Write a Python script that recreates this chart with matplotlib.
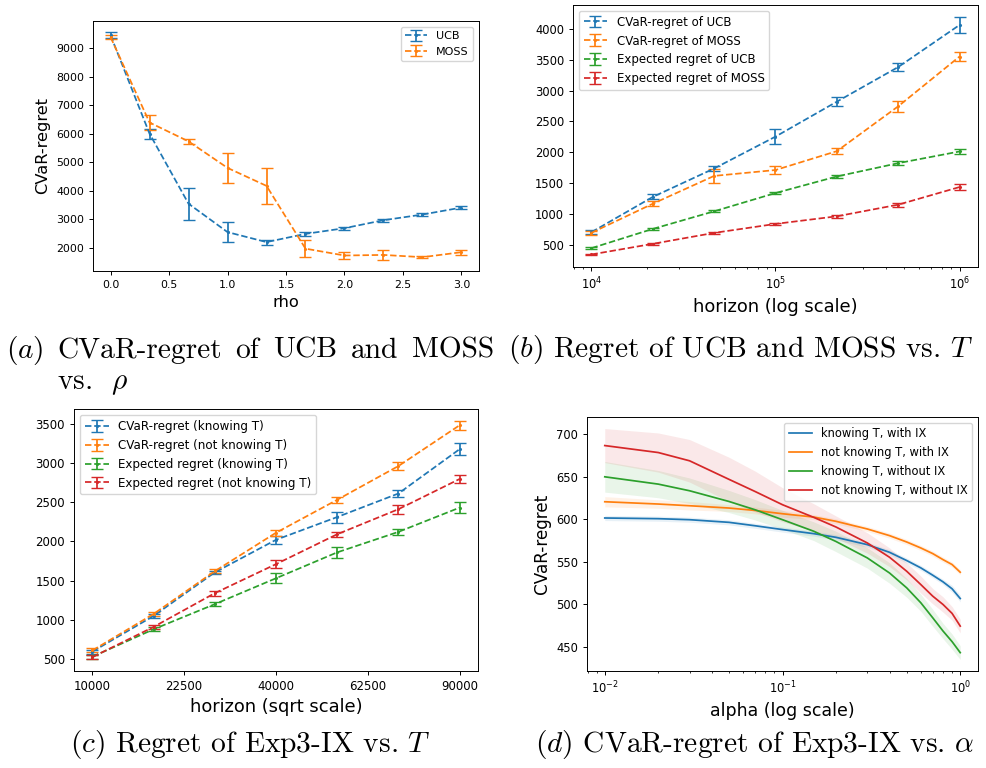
import numpy as np
import matplotlib
matplotlib.use("Agg")
import matplotlib.pyplot as plt

# ---- (a) CVaR-regret vs rho
rho = [0.0, 1/3, 2/3, 1.0, 4/3, 5/3, 2.0, 7/3, 8/3, 3.0]
ucb_rho = [9450, 6000, 3545, 2550, 2200, 2488, 2687, 2967, 3165, 3410]
ucb_rho_err = [100, 170, 555, 345, 90, 70, 50, 50, 50, 60]
moss_rho = [9385, 6390, 5730, 4800, 4170, 1970, 1730, 1750, 1671, 1846]
moss_rho_err = [60, 275, 90, 515, 620, 300, 140, 165, 40, 90]

# ---- (b) regret vs horizon (log)
horizon_b = [1e4, 2.154e4, 4.642e4, 1e5, 2.154e5, 4.642e5, 1e6]
cvar_ucb = [710, 1280, 1740, 2255, 2820, 3380, 4060]
cvar_ucb_err = [30, 40, 40, 125, 70, 65, 130]
cvar_moss = [700, 1170, 1620, 1715, 2020, 2745, 3550]
cvar_moss_err = [30, 40, 110, 70, 45, 90, 75]
exp_ucb = [452, 763, 1048, 1343, 1611, 1826, 2015]
exp_ucb_err = [15, 15, 15, 20, 25, 30, 40]
exp_moss = [350, 522, 699, 844, 967, 1155, 1440]
exp_moss_err = [10, 12, 15, 15, 20, 30, 45]

# ---- (c) Exp3-IX regret vs horizon (sqrt)
horizon_c = [10000, 17778, 27778, 40000, 54444, 71111, 90000]
cvar_know = [595, 1050, 1605, 2020, 2310, 2610, 3175]
cvar_know_err = [25, 25, 20, 50, 70, 40, 75]
cvar_notknow = [610, 1075, 1620, 2110, 2530, 2960, 3480]
cvar_notknow_err = [25, 25, 25, 40, 35, 55, 55]
exp_know = [530, 880, 1200, 1530, 1860, 2121, 2430]
exp_know_err = [25, 25, 25, 65, 70, 35, 70]
exp_notknow = [525, 910, 1340, 1710, 2091, 2410, 2795]
exp_notknow_err = [25, 25, 30, 55, 30, 55, 55]
horizon_c_ticks = [10000, 22500, 40000, 62500, 90000]

# ---- (d) CVaR-regret vs alpha
alpha = [0.01, 0.02, 0.03, 0.05, 0.07, 0.1, 0.15, 0.2, 0.3, 0.4, 0.5, 0.6, 0.7, 0.8, 0.9, 1.0]
know_ix = [601.6, 600.8, 599.6, 596.5, 592.5, 588.0, 583.2, 578.9, 570.3, 561.3, 551.6, 543.0, 534.4, 526.6, 518.4, 507.0]
know_ix_sd = [3, 3, 3, 3, 3, 3, 3, 3, 3, 3, 3, 3, 3, 3, 4, 4]
notknow_ix = [620.7, 618.0, 616.0, 613.3, 610.5, 606.6, 602.7, 597.7, 588.7, 580.9, 573.4, 566.4, 559.8, 552.7, 546.9, 537.9]
notknow_ix_sd = [6, 5, 5, 4, 4, 4, 3, 3, 3, 3, 3, 3, 3, 3, 3, 3]
know_noix = [650.0, 641.4, 633.6, 621.0, 611.3, 599.6, 586.0, 574.0, 554.7, 537.0, 519.5, 502.0, 484.4, 468.8, 456.3, 443.4]
know_noix_sd = [18, 16, 15, 13, 12, 11, 11, 12, 12, 12, 11, 10, 10, 9, 9, 8]
notknow_noix = [686.7, 678.5, 668.8, 647.0, 632.8, 617.2, 602.3, 591.0, 572.3, 555.5, 539.0, 523.4, 509.8, 500.0, 489.5, 474.6]
notknow_noix_sd = [20, 23, 25, 26, 24, 20, 16, 13, 12, 11, 10, 10, 9, 9, 8, 8]

plt.rcParams.update({
    'font.size': 8.3,
    'axes.linewidth': 0.7,
    'lines.linewidth': 1.25,
    'xtick.major.width': 0.7, 'ytick.major.width': 0.7,
    'xtick.minor.width': 0.55, 'ytick.minor.width': 0.55,
    'xtick.major.size': 2.9, 'ytick.major.size': 2.9,
    'xtick.minor.size': 1.7, 'ytick.minor.size': 1.7,
    'legend.fontsize': 8.3,
})

W, H = 987, 768
fig = plt.figure(figsize=(W/100, H/100), dpi=100)

def box(l, t, r, b):
    return [l/W, 1 - b/H, (r - l)/W, (b - t)/H]

eb = dict(fmt='--', marker='.', ms=2.5, capsize=4.2, elinewidth=1.25, lw=1.25)

# (a)
ax = fig.add_axes(box(93, 21, 479, 271))
ax.errorbar(rho, ucb_rho, yerr=ucb_rho_err, label='UCB', **eb)
ax.errorbar(rho, moss_rho, yerr=moss_rho_err, label='MOSS', **eb)
ax.set_xlabel('rho', fontsize=11.7)
ax.set_ylabel('CVaR-regret', fontsize=11.7)
ax.tick_params(labelsize=7.9)
ax.legend(loc='upper right', fontsize=8.0)

# (b)
ax = fig.add_axes(box(573, 5, 978, 267))
ax.errorbar(horizon_b, cvar_ucb, yerr=cvar_ucb_err, label='CVaR-regret of UCB', **eb)
ax.errorbar(horizon_b, cvar_moss, yerr=cvar_moss_err, label='CVaR-regret of MOSS', **eb)
ax.errorbar(horizon_b, exp_ucb, yerr=exp_ucb_err, label='Expected regret of UCB', **eb)
ax.errorbar(horizon_b, exp_moss, yerr=exp_moss_err, label='Expected regret of MOSS', **eb)
ax.set_xscale('log')
ax.set_xlabel('horizon (log scale)', fontsize=12.9)
ax.legend(loc='upper left', fontsize=8.5)

# (c)
ax = fig.add_axes(box(74, 409, 478, 671))
ax.errorbar(horizon_c, cvar_know, yerr=cvar_know_err, label='CVaR-regret (knowing T)', **eb)
ax.errorbar(horizon_c, cvar_notknow, yerr=cvar_notknow_err, label='CVaR-regret (not knowing T)', **eb)
ax.errorbar(horizon_c, exp_know, yerr=exp_know_err, label='Expected regret (knowing T)', **eb)
ax.errorbar(horizon_c, exp_notknow, yerr=exp_notknow_err, label='Expected regret (not knowing T)', **eb)
ax.set_xscale('function', functions=(np.sqrt, np.square))
ax.set_xticks(horizon_c_ticks)
ax.set_xticklabels([str(t) for t in horizon_c_ticks])
ax.tick_params(labelsize=8.5)
ax.set_xlabel('horizon (sqrt scale)', fontsize=12.9)
ax.legend(loc='upper left', fontsize=8.6)

# (d)
ax = fig.add_axes(box(587, 417, 978, 671))
series = [
    (know_ix, know_ix_sd, 'knowing T, with IX'),
    (notknow_ix, notknow_ix_sd, 'not knowing T, with IX'),
    (know_noix, know_noix_sd, 'knowing T, without IX'),
    (notknow_noix, notknow_noix_sd, 'not knowing T, without IX'),
]
for vals, sd, lab in series:
    vals = np.array(vals)
    sd = np.array(sd)
    line, = ax.plot(alpha, vals, label=lab)
    ax.fill_between(alpha, vals - sd, vals + sd, color=line.get_color(), alpha=0.1, lw=0)
ax.set_xscale('log')
ax.set_xlabel('alpha (log scale)', fontsize=12.5)
ax.set_ylabel('CVaR-regret', fontsize=12.1)
ax.legend(loc='upper right')

# captions (LaTeX-like, Computer Modern)
cap = dict(family='cmr10', math_fontfamily='cm', fontsize=21.2, va='baseline')

def ftext(x, y, s, **kw):
    return fig.text(x/W, 1 - y/H, s, **cap, **kw)

# caption (a) is justified over the column width
words = [r'$(a)$', 'CVaR-regret', 'of', 'UCB', 'and', 'MOSS']
x0, x1 = 6, 494
renderer = fig.canvas.get_renderer()
texts = [ftext(x0, 358, w) for w in words]
widths = [t.get_window_extent(renderer).width for t in texts]
gap = (x1 - x0 - sum(widths)) / (len(words) - 1)
xpos = x0
for t, w in zip(texts, widths):
    t.set_x(xpos / W)
    xpos += w + gap
ftext(x0 + widths[0] + gap, 389, r'vs.  $\rho$')

ftext(508, 357, r'$(b)$ Regret of UCB and MOSS vs. $T$')
ftext(70, 752, r'$(c)$ Regret of Exp3-IX vs. $T$')
ftext(535, 752, r'$(d)$ CVaR-regret of Exp3-IX vs. $\alpha$')

fig.savefig('out.png', dpi=100)
